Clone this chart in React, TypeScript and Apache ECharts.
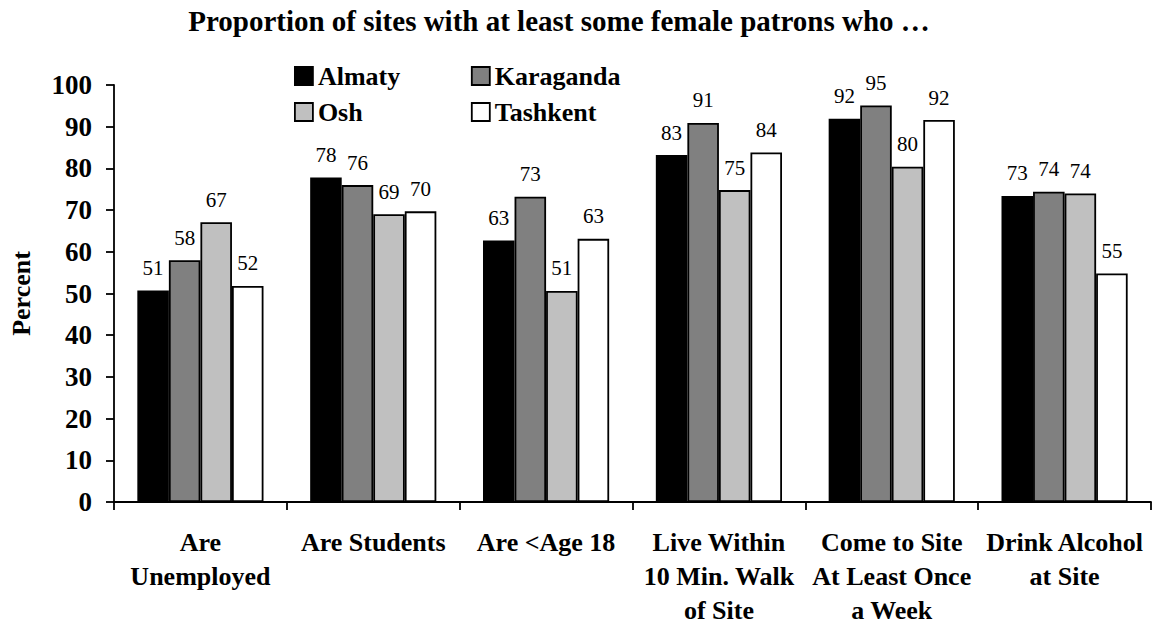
import React, { useEffect, useRef } from "react";
import * as echarts from "echarts";

const categories = [
  "Are\nUnemployed",
  "Are Students",
  "Are <Age 18",
  "Live Within\n10 Min. Walk\nof Site",
  "Come to Site\nAt Least Once\na Week",
  "Drink Alcohol\nat Site",
];
const cities = ["Almaty", "Karaganda", "Osh", "Tashkent"];
const almaty = [50.7, 77.8, 62.7, 83.2, 91.9, 73.4];
const karaganda = [58.0, 76.0, 73.2, 90.9, 95.1, 74.4];
const osh = [67.1, 69.0, 50.6, 74.8, 80.4, 74.0];
const tashkent = [51.8, 69.7, 63.1, 83.8, 91.6, 54.8];
const cityColors = ["#000000", "#808080", "#c0c0c0", "#ffffff"];
const titleText = "Proportion of sites with at least some female patrons who \u2026";
const yAxisName = "Percent";

const FONT = "'Liberation Serif', 'Times New Roman', serif";

export default function App() {
  const ref = useRef<HTMLDivElement>(null);
  useEffect(() => {
    if (!ref.current) return;
    const chart = echarts.init(ref.current, null, { renderer: "svg" });
    const values = [almaty, karaganda, osh, tashkent];
    const legendBase = {
      orient: "horizontal",
      padding: 0,
      itemGap: 0,
      itemWidth: 18,
      itemHeight: 18,
      icon: "rect",
      selectedMode: false,
      left: 294,
      itemStyle: { borderColor: "#000", borderWidth: 1.8 },
      textStyle: {
        fontFamily: FONT,
        fontSize: 26,
        fontWeight: "bold",
        color: "#000",
        width: 153,
        lineHeight: 26,
      },
    };
    chart.setOption({
      animation: false,
      backgroundColor: "#fff",
      graphic: [
        {
          type: "text",
          x: 559,
          y: 6,
          style: {
            text: titleText,
            textAlign: "center",
            textVerticalAlign: "top",
            fontFamily: FONT,
            fontSize: 29,
            fontWeight: "bold",
            fill: "#000",
          },
        },
      ],
      legend: [
        { ...legendBase, top: 63, data: ["Almaty", "Karaganda"] },
        { ...legendBase, top: 99, data: ["Osh", "Tashkent"] },
      ],
      grid: { left: 107, right: 1, top: 85, bottom: 122, containLabel: false },
      xAxis: {
        type: "category",
        data: categories,
        axisLine: { lineStyle: { color: "#000", width: 1.8 } },
        axisTick: { show: true, length: 8, inside: false, lineStyle: { color: "#000", width: 1.8 } },
        axisLabel: {
          interval: 0,
          margin: 23,
          fontFamily: FONT,
          fontSize: 26,
          fontWeight: "bold",
          color: "#000",
          lineHeight: 34,
        },
        splitLine: { show: false },
      },
      yAxis: {
        type: "value",
        min: 0,
        max: 100,
        interval: 10,
        name: yAxisName,
        nameLocation: "middle",
        nameGap: 80,
        nameTextStyle: { fontFamily: FONT, fontSize: 26, fontWeight: "bold", color: "#000" },
        axisLine: { show: true, lineStyle: { color: "#000", width: 1.8 } },
        axisTick: { show: true, length: 8, inside: false, lineStyle: { color: "#000", width: 1.8 } },
        axisLabel: { margin: 22, fontFamily: FONT, fontSize: 27, fontWeight: "bold", color: "#000" },
        splitLine: { show: false },
      },
      series: cities.map((name, i) => ({
        name,
        type: "bar",
        data: values[i],
        barGap: "0%",
        barCategoryGap: "27%",
        itemStyle: { color: cityColors[i], borderColor: "#000", borderWidth: 1.8 },
        label: {
          show: true,
          position: "top",
          distance: 12,
          fontFamily: FONT,
          fontSize: 21,
          color: "#000",
          formatter: (p: any) => String(Math.round(p.value)),
        },
      })),
    });
    return () => chart.dispose();
  }, []);
  return (
    <div
      ref={ref}
      style={{ position: "fixed", left: 0, top: 0, width: 1152, height: 627 }}
    />
  );
}
